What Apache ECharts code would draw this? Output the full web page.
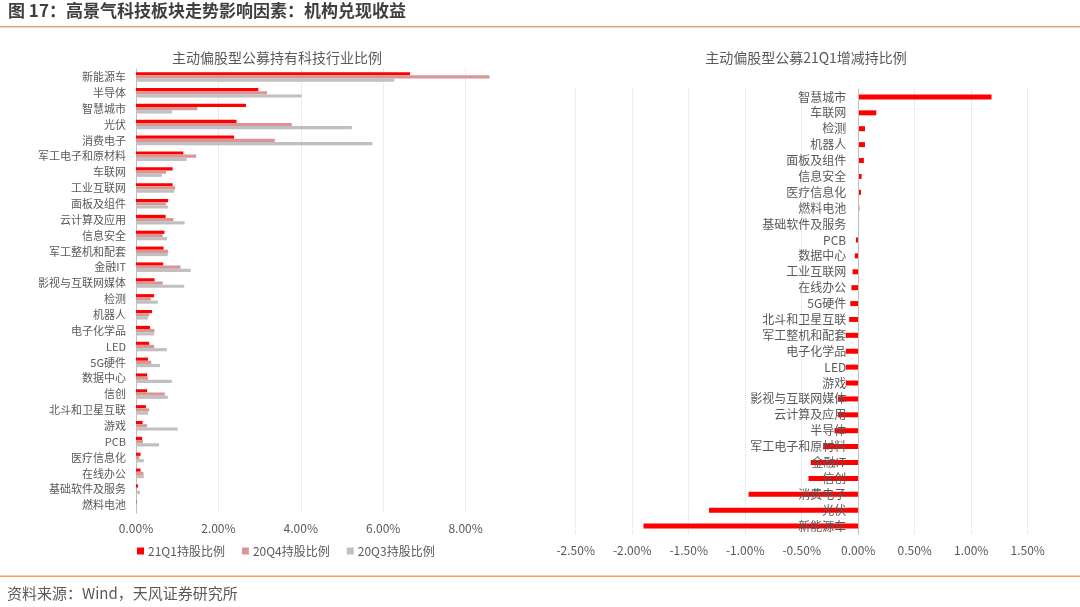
<!DOCTYPE html>
<html>
<head>
<meta charset="utf-8">
<script src="https://cdn.jsdelivr.net/npm/echarts@6/dist/echarts.min.js"></script>
<style>
html,body{margin:0;padding:0;background:#fff;}
#main{width:1080px;height:607px;}
</style>
</head>
<body>
<div id="main"></div>
<script>
// ---------- data ----------
var holdCategories = ['新能源车','半导体','智慧城市','光伏','消费电子','军工电子和原材料','车联网','工业互联网','面板及组件','云计算及应用','信息安全','军工整机和配套','金融IT','影视与互联网媒体','检测','机器人','电子化学品','LED','5G硬件','数据中心','信创','北斗和卫星互联','游戏','PCB','医疗信息化','在线办公','基础软件及服务','燃料电池'];
var hold21Q1 = [6.65,2.97,2.67,2.44,2.38,1.15,0.89,0.89,0.78,0.72,0.69,0.67,0.66,0.45,0.44,0.39,0.34,0.32,0.29,0.27,0.27,0.24,0.16,0.15,0.11,0.11,0.05,0.01];
var hold20Q4 = [8.58,3.18,1.49,3.78,3.37,1.46,0.73,0.95,0.73,0.91,0.65,0.78,1.08,0.65,0.36,0.32,0.45,0.44,0.37,0.29,0.70,0.32,0.27,0.17,0.08,0.18,0.02,0.00];
var hold20Q3 = [6.27,4.02,0.87,5.24,5.74,1.23,0.63,0.93,0.78,1.18,0.75,0.77,1.33,1.17,0.53,0.29,0.44,0.75,0.58,0.87,0.77,0.29,1.01,0.56,0.19,0.19,0.10,0.00];
var seriesNames = ['21Q1持股比例','20Q4持股比例','20Q3持股比例'];

var changeCategories = ['智慧城市','车联网','检测','机器人','面板及组件','信息安全','医疗信息化','燃料电池','基础软件及服务','PCB','数据中心','工业互联网','在线办公','5G硬件','北斗和卫星互联','军工整机和配套','电子化学品','LED','游戏','影视与互联网媒体','云计算及应用','半导体','军工电子和原材料','金融IT','信创','消费电子','光伏','新能源车'];
var change21Q1 = [1.18,0.16,0.06,0.06,0.05,0.03,0.025,0.01,0.002,-0.02,-0.03,-0.05,-0.06,-0.07,-0.08,-0.11,-0.11,-0.11,-0.11,-0.18,-0.18,-0.21,-0.31,-0.42,-0.44,-0.97,-1.32,-1.90];

var titleMain = '图 17：高景气科技板块走势影响因素：机构兑现收益';
var titleLeft = '主动偏股型公募持有科技行业比例';
var titleRight = '主动偏股型公募21Q1增减持比例';
var sourceText = '资料来源：Wind，天风证券研究所';

// ---------- chart ----------
var FONT = '"Microsoft YaHei","Noto Sans CJK SC","Noto Sans",sans-serif';
var txt = '#595959';
var chart = echarts.init(document.getElementById('main'));
function pct(v){ return v.toFixed(2) + '%'; }

var rightGridLeft = 575.7, rightGridRight = 1027.7, rightMin = -2.5, rightMax = 1.5;
var zeroOffset = (0 - rightMin) / (rightMax - rightMin) * (rightGridRight - rightGridLeft);

chart.setOption({
  backgroundColor: '#fff',
  textStyle: { fontFamily: FONT },
  animation: false,
  title: [
    { text: titleLeft, left: 272, top: 46, textAlign: 'center',
      textStyle: { fontSize: 14, fontWeight: 'normal', color: txt, fontFamily: FONT } },
    { text: titleRight, left: 801, top: 46, textAlign: 'center',
      textStyle: { fontSize: 14, fontWeight: 'normal', color: txt, fontFamily: FONT } }
  ],
  graphic: [
    { type: 'text', left: 8, top: 2, style: { text: titleMain, fill: '#3f3f3f', font: 'bold 17px ' + FONT } },
    { type: 'rect', shape: { x: 0, y: 26, width: 1080, height: 1.5 }, style: { fill: '#E3A678' } },
    { type: 'rect', shape: { x: 0, y: 575.5, width: 1080, height: 1.5 }, style: { fill: '#F2A255' } },
    { type: 'text', left: 7, top: 586, style: { text: sourceText, fill: '#595959', font: '15px ' + FONT } }
  ],
  legend: {
    left: 132, top: 540,
    itemWidth: 7, itemHeight: 7, itemGap: 17,
    icon: 'rect',
    textStyle: { fontSize: 12, color: txt, padding: [0,0,0,-1] },
    data: seriesNames
  },
  grid: [
    { left: 136, right: 1080 - (136 + 9 * 41.2), top: 69, height: 444, containLabel: false },
    { left: rightGridLeft, right: 1080 - rightGridRight, top: 89, height: 445, containLabel: false }
  ],
  xAxis: [
    { type: 'value', gridIndex: 0, min: 0, max: 9, interval: 2,
      axisLine: { show: false }, axisTick: { show: false },
      axisLabel: { color: txt, fontSize: 12, margin: 9, showMaxLabel: false, formatter: function(v){ return v === 9 ? '' : pct(v); } },
      splitLine: { show: true, showMaxLine: false, lineStyle: { color: '#D9D9D9', type: 'dotted' } } },
    { type: 'value', gridIndex: 1, min: rightMin, max: rightMax, interval: 0.5,
      axisLine: { show: false }, axisTick: { show: false },
      axisLabel: { color: txt, fontSize: 12, margin: 10, formatter: pct },
      splitLine: { show: true, lineStyle: { color: '#D9D9D9', type: 'dotted' } } }
  ],
  yAxis: [
    { type: 'category', gridIndex: 0, inverse: true, data: holdCategories,
      axisLine: { show: true, lineStyle: { color: '#BFBFBF' } }, axisTick: { show: false },
      axisLabel: { color: txt, fontSize: 11, margin: 10, interval: 0 } },
    { type: 'category', gridIndex: 1, inverse: true, data: changeCategories, z: 5,
      position: 'left', offset: -zeroOffset,
      axisLine: { show: true, onZero: false, lineStyle: { color: '#BFBFBF' } }, axisTick: { show: false },
      axisLabel: { color: txt, fontSize: 12, margin: 12, interval: 0 } }
  ],
  series: [
    { name: seriesNames[0], type: 'bar', xAxisIndex: 0, yAxisIndex: 0, data: hold21Q1,
      barWidth: 3.2, barGap: '0%', itemStyle: { color: '#FF0000' } },
    { name: seriesNames[1], type: 'bar', xAxisIndex: 0, yAxisIndex: 0, data: hold20Q4,
      barWidth: 3.2, barGap: '0%', itemStyle: { color: '#DA9694' } },
    { name: seriesNames[2], type: 'bar', xAxisIndex: 0, yAxisIndex: 0, data: hold20Q3,
      barWidth: 3.2, barGap: '0%', itemStyle: { color: '#C0C0C0' } },
    { name: '21Q1增减持比例', type: 'bar', xAxisIndex: 1, yAxisIndex: 1, data: change21Q1,
      barWidth: 5, itemStyle: { color: '#FF0000' } }
  ]
});
</script>
</body>
</html>
